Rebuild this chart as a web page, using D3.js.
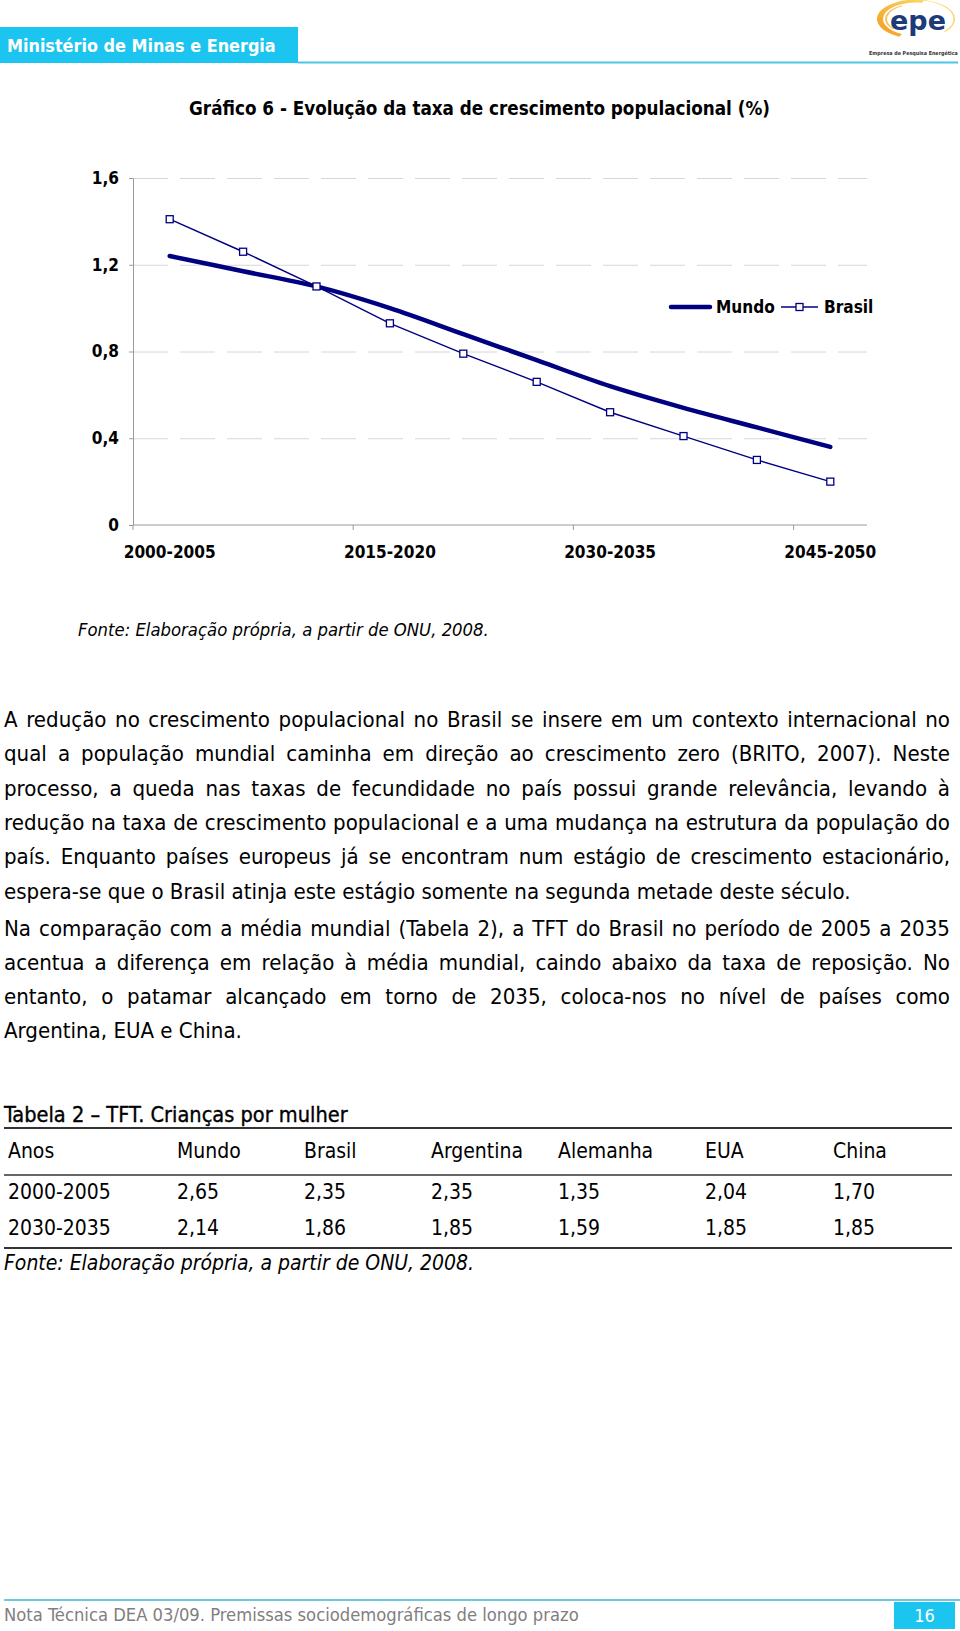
<!DOCTYPE html>
<html><head><meta charset="utf-8">
<script src="https://cdn.jsdelivr.net/npm/d3@7"></script>
<style>body{margin:0;background:#fff}svg{display:block}</style>
</head><body>
<script>
// ---------- data ----------
const categories = ["2000-2005","2005-2010","2010-2015","2015-2020","2020-2025","2025-2030","2030-2035","2035-2040","2040-2045","2045-2050"];
const mundo  = [1.24,1.17,1.10,1.00,0.88,0.76,0.64,0.54,0.45,0.36];
const brasil = [1.41,1.26,1.10,0.93,0.79,0.66,0.52,0.41,0.30,0.20];
const yTicks = [0,0.4,0.8,1.2,1.6];
const xLabelled = ["2000-2005","2015-2020","2030-2035","2045-2050"];
const seriesNames = ["Mundo","Brasil"];
const tableCols = ["Anos","Mundo","Brasil","Argentina","Alemanha","EUA","China"];
const tableRow1 = ["2000-2005","2,65","2,35","2,35","1,35","2,04","1,70"];
const tableRow2 = ["2030-2035","2,14","1,86","1,85","1,59","1,85","1,85"];
const para1 = [
 "A redução no crescimento populacional no Brasil se insere em um contexto internacional no",
 "qual a população mundial caminha em direção ao crescimento zero (BRITO, 2007). Neste",
 "processo, a queda nas taxas de fecundidade no país possui grande relevância, levando à",
 "redução na taxa de crescimento populacional e a uma mudança na estrutura da população do",
 "país. Enquanto países europeus já se encontram num estágio de crescimento estacionário,",
 "espera-se que o Brasil atinja este estágio somente na segunda metade deste século."];
const para2 = [
 "Na comparação com a média mundial (Tabela 2), a TFT do Brasil no período de 2005 a 2035",
 "acentua a diferença em relação à média mundial, caindo abaixo da taxa de reposição. No",
 "entanto, o patamar alcançado em torno de 2035, coloca-nos no nível de países como",
 "Argentina, EUA e China."];

// ---------- setup ----------
const W = 960, H = 1631;
const NAVY = "#000080", CYAN = "#1cc4f0";
const BODY = "'DejaVu Sans Condensed', 'DejaVu Sans', sans-serif";
const CHARTF = "'DejaVu Sans Condensed', 'DejaVu Sans', sans-serif";
const svg = d3.select("body").append("svg").attr("width", W).attr("height", H);
svg.append("rect").attr("width", W).attr("height", H).attr("fill", "#fff");

function fitSize(font, weight, style, str, target, base=20) {
  const t = svg.append("text").attr("font-family", font).attr("font-weight", weight)
    .attr("font-style", style).attr("font-size", base).text(str);
  const w = t.node().getComputedTextLength(); t.remove();
  return base * target / w;
}
function justify(sel, x0, x1) {
  sel.each(function(d) {
    const n = d3.select(this);
    const spaces = (n.text().match(/ /g) || []).length;
    if (!d.just || !spaces) return;
    const w = this.getComputedTextLength();
    n.attr("word-spacing", (x1 - x0 - w) / spaces);
  });
}

// ---------- header ----------
svg.append("rect").attr("x", 0).attr("y", 27).attr("width", 298).attr("height", 36).attr("fill", CYAN);
svg.append("line").attr("x1", 298).attr("x2", 958).attr("y1", 62.5).attr("y2", 62.5)
  .attr("stroke", "#4cc6e6").attr("stroke-width", 2);
const hfs = fitSize(CHARTF, "bold", "normal", "Ministério de Minas e Energia", 269);
svg.append("text").attr("x", 7).attr("y", 52).attr("font-family", CHARTF).attr("font-weight", "bold")
  .attr("font-size", hfs).attr("fill", "#fff").text("Ministério de Minas e Energia");

// logo
const defs = svg.append("defs");
const lg = defs.append("linearGradient").attr("id", "og").attr("x1", "0").attr("x2", "1").attr("y1", "1").attr("y2", "0");
lg.append("stop").attr("offset", "0").attr("stop-color", "#f39a1e");
lg.append("stop").attr("offset", "1").attr("stop-color", "#fbd96a");
const logo = svg.append("g").attr("transform", "translate(916,19) scale(1,0.5)");
const arc = d3.arc();
logo.append("path").attr("d", arc({innerRadius: 33, outerRadius: 39, startAngle: -2.7, endAngle: 0.2})).attr("fill", "url(#og)");
logo.append("path").attr("d", arc({innerRadius: 37.5, outerRadius: 39, startAngle: 0.2, endAngle: 2.3})).attr("fill", "#fbd46a");
logo.append("path").attr("d", arc({innerRadius: 29, outerRadius: 31, startAngle: -2.3, endAngle: -0.5})).attr("fill", "#f8c35a");
const efs = fitSize("'DejaVu Sans', sans-serif", "bold", "normal", "epe", 56);
svg.append("text").attr("x", 918).attr("y", 30).attr("text-anchor", "middle").attr("font-family", "'DejaVu Sans', sans-serif")
  .attr("font-weight", "bold").attr("font-size", efs).attr("fill", "#1d3b78").text("epe");
const sfs = fitSize(BODY, "bold", "normal", "Empresa de Pesquisa Energética", 89);
svg.append("text").attr("x", 869).attr("y", 55).attr("font-family", BODY).attr("font-weight", "bold")
  .attr("font-size", sfs).attr("fill", "#333").text("Empresa de Pesquisa Energética");

// ---------- chart title ----------
const tfs = fitSize(CHARTF, "bold", "normal", "Gráfico 6 - Evolução da taxa de crescimento populacional (%)", 581);
svg.append("text").attr("x", 479.5).attr("y", 115).attr("text-anchor", "middle").attr("font-family", CHARTF)
  .attr("font-weight", "bold").attr("font-size", tfs).attr("fill", "#000")
  .text("Gráfico 6 - Evolução da taxa de crescimento populacional (%)");

// ---------- chart ----------
const x = d3.scaleBand().domain(categories).range([133, 867]).padding(0);
const y = d3.scaleLinear().domain([0, 1.6]).range([525, 178]);
const cx = c => x(c) + x.bandwidth() / 2;
const afs = fitSize(CHARTF, "bold", "normal", "2000-2005", 92);
const fmt = d => d === 0 ? "0" : d3.format(".1f")(d).replace(".", ",");

// gridlines
const grid = svg.append("g").attr("transform", `translate(${x.range()[0]},0)`)
  .call(d3.axisLeft(y).tickValues(yTicks.filter(d => d > 0)).tickSize(-(x.range()[1] - x.range()[0])).tickFormat(""));
grid.select(".domain").remove();
grid.selectAll("line").attr("stroke", "#d6d6d6").attr("stroke-dasharray", "35,12");

// y axis
const ya = svg.append("g").attr("transform", `translate(${x.range()[0]},0)`)
  .call(d3.axisLeft(y).tickValues(yTicks).tickSize(4).tickSizeOuter(0).tickPadding(10).tickFormat(fmt));
ya.select(".domain").attr("stroke", "#9a9a9a");
ya.selectAll(".tick line").attr("stroke", "#9a9a9a");
ya.selectAll("text").attr("font-family", CHARTF).attr("font-weight", "bold").attr("font-size", afs).attr("fill", "#000");

// x axis
const xa = svg.append("g");
xa.append("line").attr("x1", x.range()[0]).attr("x2", x.range()[1]).attr("y1", y(0)).attr("y2", y(0)).attr("stroke", "#9a9a9a");
xa.selectAll(".tk").data(xLabelled).join("line").attr("class", "tk")
  .attr("x1", d => x(d)).attr("x2", d => x(d)).attr("y1", y(0)).attr("y2", y(0) + 5).attr("stroke", "#9a9a9a");
xa.selectAll(".lb").data(xLabelled).join("text").attr("class", "lb")
  .attr("x", cx).attr("y", y(0) + 33).attr("text-anchor", "middle")
  .attr("font-family", CHARTF).attr("font-weight", "bold").attr("font-size", afs).attr("fill", "#000").text(d => d);

// lines
svg.append("path").datum(mundo)
  .attr("d", d3.line().x((d, i) => cx(categories[i])).y(d => y(d)).curve(d3.curveCatmullRom.alpha(0.5)))
  .attr("fill", "none").attr("stroke", NAVY).attr("stroke-width", 4.5).attr("stroke-linecap", "round");
svg.append("path").datum(brasil).attr("d", d3.line().x((d, i) => cx(categories[i])).y(d => y(d)))
  .attr("fill", "none").attr("stroke", NAVY).attr("stroke-width", 1.4);
svg.selectAll(".mk").data(brasil).join("rect").attr("class", "mk")
  .attr("x", (d, i) => cx(categories[i]) - 3.5).attr("y", d => y(d) - 3.5).attr("width", 7).attr("height", 7)
  .attr("fill", "#fff").attr("stroke", NAVY).attr("stroke-width", 1.3);

// legend
const lgY = 307;
const leg = svg.append("g");
leg.append("line").attr("x1", 671).attr("x2", 710).attr("y1", lgY).attr("y2", lgY).attr("stroke", NAVY).attr("stroke-width", 4.5).attr("stroke-linecap", "round");
leg.append("text").attr("x", 716).attr("y", lgY + 6).attr("font-family", CHARTF).attr("font-weight", "bold").attr("font-size", afs).text(seriesNames[0]);
leg.append("line").attr("x1", 781).attr("x2", 818).attr("y1", lgY).attr("y2", lgY).attr("stroke", NAVY).attr("stroke-width", 1.4);
leg.append("rect").attr("x", 799.5 - 3.5).attr("y", lgY - 3.5).attr("width", 7).attr("height", 7).attr("fill", "#fff").attr("stroke", NAVY).attr("stroke-width", 1.3);
leg.append("text").attr("x", 824).attr("y", lgY + 6).attr("font-family", CHARTF).attr("font-weight", "bold").attr("font-size", afs).text(seriesNames[1]);

// fonte (chart)
const ffs = fitSize(BODY, "normal", "italic", "Fonte: Elaboração própria, a partir de ONU, 2008.", 411);
svg.append("text").attr("x", 78).attr("y", 636).attr("font-family", BODY).attr("font-style", "italic")
  .attr("font-size", ffs).attr("fill", "#000").text("Fonte: Elaboração própria, a partir de ONU, 2008.");

// ---------- body text ----------
const bfs = fitSize(BODY, "normal", "normal", "Argentina, EUA e China.", 238);
const lh = 34.3;
const p1 = para1.map((t, i) => ({t, y: 727 + i * lh, just: i < para1.length - 1}));
const p2 = para2.map((t, i) => ({t, y: 935.5 + i * lh, just: i < para2.length - 1}));
svg.selectAll(".body").data(p1.concat(p2)).join("text").attr("class", "body")
  .attr("x", 4).attr("y", d => d.y).attr("font-family", BODY).attr("font-size", bfs).attr("fill", "#000")
  .text(d => d.t).call(justify, 4, 950);

// ---------- table ----------
const colX = [8, 177, 304, 431, 558, 705, 833];
const tbfs = fitSize(BODY, "normal", "normal", "Argentina", 92);
const ttfs = fitSize(BODY, "normal", "normal", "Tabela 2 – TFT. Crianças por mulher", 344);
svg.append("text").attr("x", 4).attr("y", 1122).attr("font-family", BODY).attr("font-size", ttfs)
  .attr("stroke", "#000").attr("stroke-width", 0.35)
  .attr("fill", "#000").text("Tabela 2 – TFT. Crianças por mulher");
[[1128, 2], [1175, 1.5], [1248, 2]].forEach(([yy, sw]) =>
  svg.append("line").attr("x1", 4).attr("x2", 952).attr("y1", yy).attr("y2", yy).attr("stroke", "#333").attr("stroke-width", sw));
[[tableCols, 1157.5], [tableRow1, 1199], [tableRow2, 1234.5]].forEach(([row, yy]) =>
  svg.append("g").selectAll("text").data(row).join("text")
    .attr("x", (d, i) => colX[i]).attr("y", yy).attr("font-family", BODY).attr("font-size", tbfs).attr("fill", "#000").text(d => d));
svg.append("text").attr("x", 4).attr("y", 1269.5).attr("font-family", BODY).attr("font-style", "italic")
  .attr("font-size", tbfs).attr("fill", "#000").text("Fonte: Elaboração própria, a partir de ONU, 2008.");

// ---------- footer ----------
svg.append("line").attr("x1", 4).attr("x2", 960).attr("y1", 1600).attr("y2", 1600).attr("stroke", "#6cc8dc").attr("stroke-width", 2);
const nfs = fitSize(CHARTF, "normal", "normal", "Nota Técnica DEA 03/09. Premissas sociodemográficas de longo prazo", 575);
svg.append("text").attr("x", 4).attr("y", 1621).attr("font-family", CHARTF).attr("font-size", nfs).attr("fill", "#808080")
  .text("Nota Técnica DEA 03/09. Premissas sociodemográficas de longo prazo");
svg.append("rect").attr("x", 894).attr("y", 1602).attr("width", 61).attr("height", 27).attr("fill", CYAN);
svg.append("text").attr("x", 924.5).attr("y", 1622).attr("text-anchor", "middle").attr("font-family", BODY)
  .attr("font-size", 18).attr("fill", "#fff").text("16");
</script>
</body></html>
